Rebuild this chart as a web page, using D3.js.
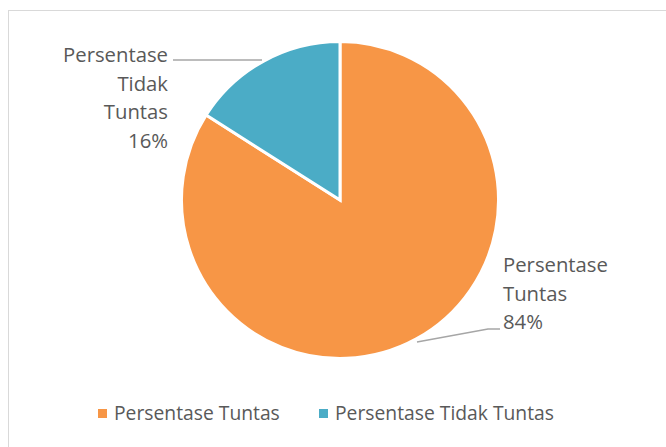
<!DOCTYPE html>
<html>
<head>
<meta charset="utf-8">
<script src="https://cdn.jsdelivr.net/npm/d3@7"></script>
<style>
  body { margin: 0; background: #fff; }
  svg text { font-family: "Open Sans", "Noto Sans", sans-serif; fill: #595959; }
</style>
</head>
<body>
<svg id="chart" width="666" height="447"></svg>
<script>
var categories = ['Persentase Tuntas', 'Persentase Tidak Tuntas'];
var values = [84, 16];
var colors = ['#F79646', '#4BACC6'];
var labelLines = [['Persentase', 'Tuntas', '84%'], ['Persentase', 'Tidak', 'Tuntas', '16%']];

var svg = d3.select('#chart');
var cx = 340, cy = 200, r = 158.5;

// chart border
svg.append('rect')
    .attr('x', 8.5).attr('y', 10.5)
    .attr('width', 700).attr('height', 500)
    .attr('fill', 'none')
    .attr('stroke', '#d9d9d9');

var pie = d3.pie().sort(null).value(function (d) { return d; });
var arc = d3.arc().innerRadius(0).outerRadius(r);
var arcs = pie(values);

var g = svg.append('g').attr('transform', 'translate(' + cx + ',' + cy + ')');
g.selectAll('path.slice')
    .data(arcs)
    .enter().append('path')
    .attr('class', 'slice')
    .attr('d', arc)
    .attr('fill', function (d, i) { return colors[i]; })
    .attr('stroke', '#fff')
    .attr('stroke-width', 3);

// leader lines
var leaders = [
    [[417, 342], [488, 329], [500, 329]],
    [[173, 60], [262, 60]]
];
svg.selectAll('path.leader')
    .data(leaders)
    .enter().append('path')
    .attr('class', 'leader')
    .attr('d', d3.line())
    .attr('fill', 'none')
    .attr('stroke', '#a6a6a6')
    .attr('stroke-width', 1.5);

// data labels
var fs = 20.3, lh = 28.5;
var labelPos = [
    { x: 503, y: 265, anchor: 'start' },
    { x: 168, y: 55, anchor: 'end' }
];
labelLines.forEach(function (lines, i) {
    var t = svg.append('text')
        .attr('text-anchor', labelPos[i].anchor)
        .attr('font-size', fs);
    lines.forEach(function (s, j) {
        t.append('tspan')
            .attr('x', labelPos[i].x)
            .attr('y', labelPos[i].y + j * lh)
            .attr('dy', '0.35em')
            .text(s);
    });
});

// legend
var legendX = [98, 319];
var lg = svg.selectAll('g.legend')
    .data(categories)
    .enter().append('g')
    .attr('class', 'legend')
    .attr('transform', function (d, i) { return 'translate(' + legendX[i] + ',409)'; });
lg.append('rect')
    .attr('width', 9).attr('height', 9)
    .attr('fill', function (d, i) { return colors[i]; });
lg.append('text')
    .attr('x', 16).attr('y', 4.5)
    .attr('dy', '0.35em')
    .attr('font-size', 19.3)
    .text(function (d) { return d; });
</script>
</body>
</html>
